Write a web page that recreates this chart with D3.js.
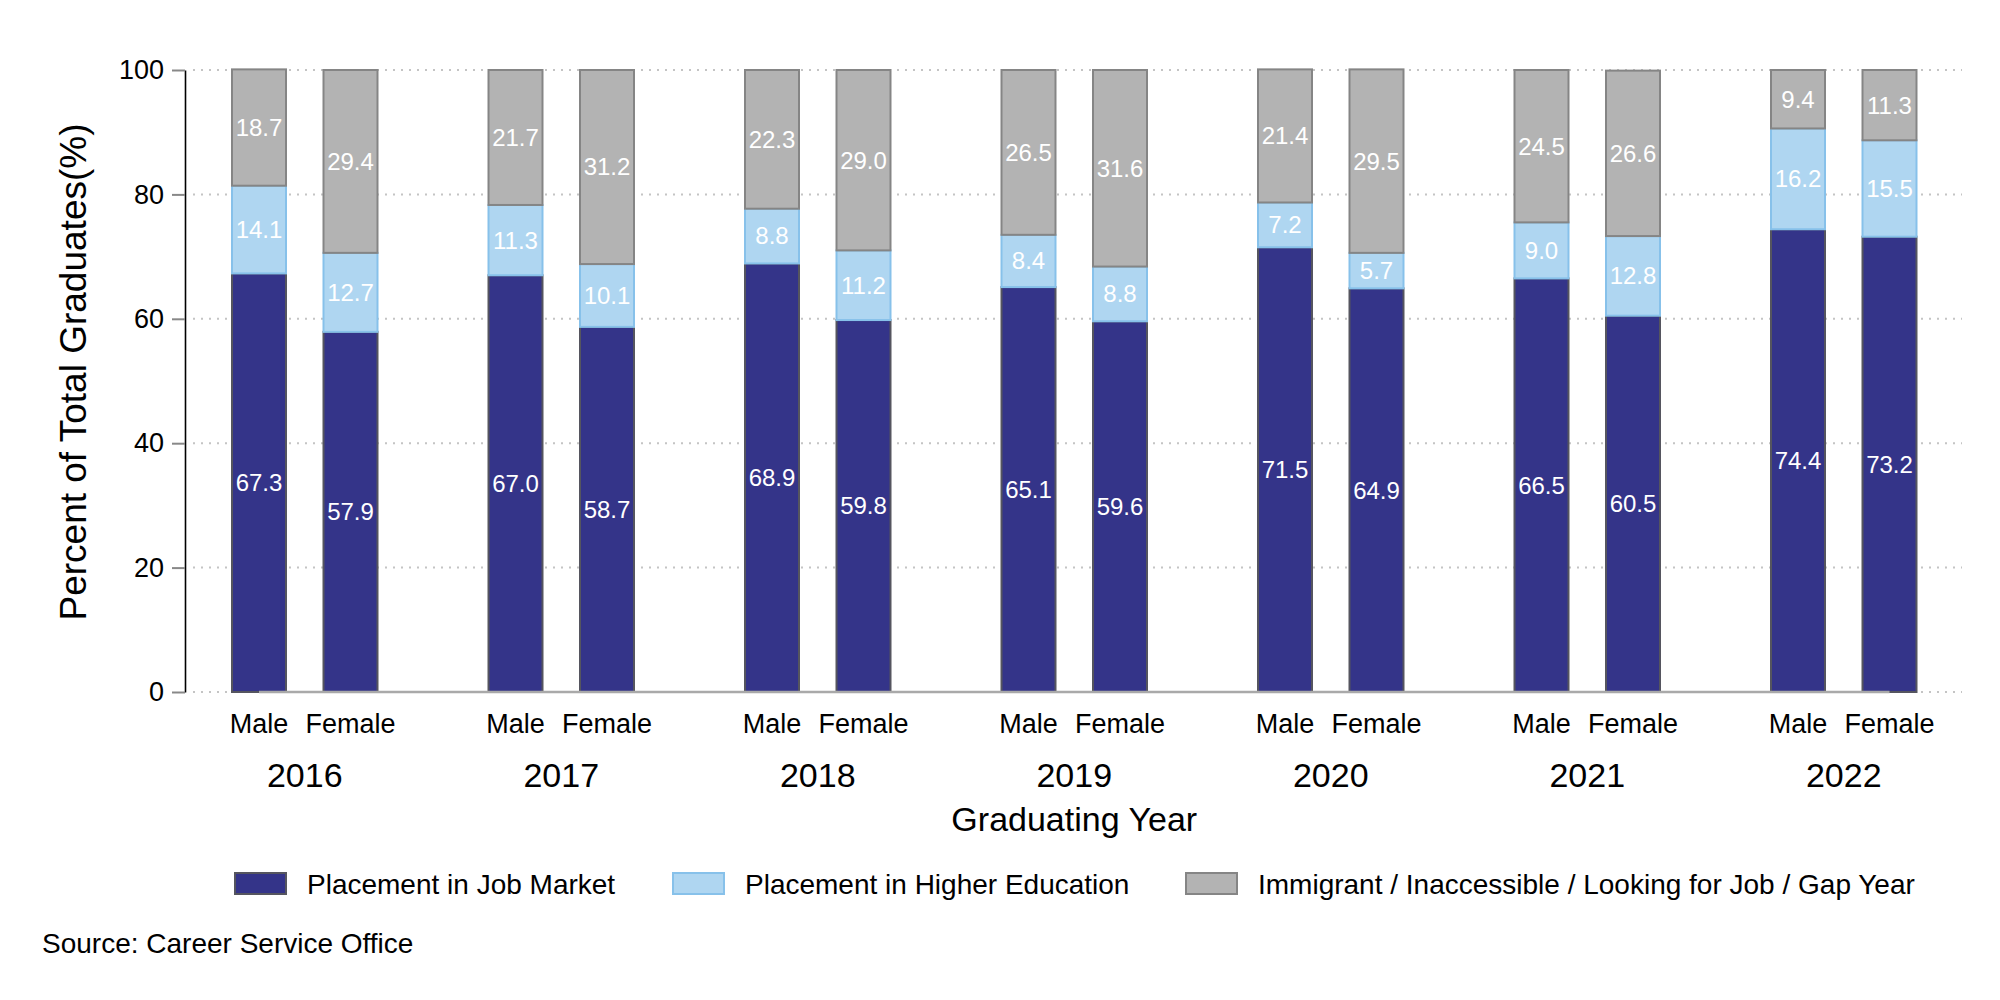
<!DOCTYPE html>
<html>
<head>
<meta charset="utf-8">
<script src="https://cdn.jsdelivr.net/npm/d3@7"></script>
<style>
  html, body { margin: 0; padding: 0; background: #ffffff; }
  svg { display: block; font-family: "Liberation Sans", Arial, sans-serif; }
</style>
</head>
<body>
<svg id="chart" width="2000" height="1000"></svg>
<script>
// ---- data ----
const years = ["2016", "2017", "2018", "2019", "2020", "2021", "2022"];
const sexes = ["Male", "Female"];
const seriesNames = [
  "Placement in Job Market",
  "Placement in Higher Education",
  "Immigrant / Inaccessible / Looking for Job / Gap Year"
];
// values ordered as [2016 Male, 2016 Female, 2017 Male, 2017 Female, ...]
const jobMarket = [67.3, 57.9, 67.0, 58.7, 68.9, 59.8, 65.1, 59.6, 71.5, 64.9, 66.5, 60.5, 74.4, 73.2];
const higherEdu = [14.1, 12.7, 11.3, 10.1, 8.8, 11.2, 8.4, 8.8, 7.2, 5.7, 9.0, 12.8, 16.2, 15.5];
const otherOutcome = [18.7, 29.4, 21.7, 31.2, 22.3, 29.0, 26.5, 31.6, 21.4, 29.5, 24.5, 26.6, 9.4, 11.3];
const yTicks = [0, 20, 40, 60, 80, 100];

const fills = ["#343489", "#afd6f1", "#b3b3b3"];
const strokes = ["#55555f", "#87c1ea", "#858585"];

// ---- build rows ----
const rows = [];
years.forEach((yr, i) => {
  sexes.forEach((sx, j) => {
    const k = i * 2 + j;
    rows.push({ year: yr, sex: sx, s0: jobMarket[k], s1: higherEdu[k], s2: otherOutcome[k] });
  });
});
const stack = d3.stack().keys(["s0", "s1", "s2"])(rows);

// ---- scales ----
const svg = d3.select("#chart");
const y = d3.scaleLinear().domain([0, 100]).range([692, 70]);
const x = d3.scaleBand().domain(years).range([176.5, 1972]).padding(0);
const xs = d3.scalePoint().domain(sexes).range([-45.75, 45.75]);
const barW = 54;
const cx = d => x(d.year) + x.bandwidth() / 2 + xs(d.sex);

// ---- grid ----
svg.append("g").selectAll("line").data(yTicks).join("line")
  .attr("x1", 193).attr("x2", 1962)
  .attr("y1", d => y(d)).attr("y2", d => y(d))
  .attr("stroke", "#c4c4c4").attr("stroke-width", 2)
  .attr("stroke-dasharray", "2,6");

// ---- bars ----
stack.forEach((layer, li) => {
  const g = svg.append("g");
  g.selectAll("rect").data(layer).join("rect")
    .attr("x", d => cx(d.data) - barW / 2)
    .attr("width", barW)
    .attr("y", d => y(d[1]))
    .attr("height", d => y(d[0]) - y(d[1]))
    .attr("fill", fills[li])
    .attr("stroke", strokes[li])
    .attr("stroke-width", 2);
});

// baseline line
svg.append("line")
  .attr("x1", cx(rows[0])).attr("x2", cx(rows[rows.length - 1]))
  .attr("y1", y(0)).attr("y2", y(0))
  .attr("stroke", "#a9a9a9").attr("stroke-width", 2.5);

// value labels
stack.forEach((layer, li) => {
  svg.append("g").selectAll("text").data(layer).join("text")
    .attr("x", d => cx(d.data))
    .attr("y", d => (y(d[0]) + y(d[1])) / 2)
    .attr("dy", "0.35em")
    .attr("text-anchor", "middle")
    .attr("fill", "#ffffff")
    .attr("font-size", 24)
    .text(d => (d[1] - d[0]).toFixed(1));
});

// ---- y axis ----
const yAxis = svg.append("g")
  .attr("transform", "translate(185,0)")
  .call(d3.axisLeft(y).tickValues(yTicks).tickSize(13).tickSizeOuter(0).tickPadding(8));
yAxis.select(".domain").attr("stroke", "#000").attr("stroke-width", 1.6);
yAxis.selectAll(".tick line").attr("stroke", "#888").attr("stroke-width", 2);
yAxis.selectAll(".tick text").attr("font-size", 27).attr("fill", "#000")
  .attr("font-family", "Liberation Sans, Arial, sans-serif");

svg.append("text")
  .attr("transform", "translate(86,372) rotate(-90)")
  .attr("text-anchor", "middle")
  .attr("font-size", 37)
  .text("Percent of Total Graduates(%)");

// ---- x labels ----
svg.append("g").selectAll("text").data(rows).join("text")
  .attr("x", d => cx(d)).attr("y", 733)
  .attr("text-anchor", "middle").attr("font-size", 27)
  .text(d => d.sex);

svg.append("g").selectAll("text").data(years).join("text")
  .attr("x", d => x(d) + x.bandwidth() / 2).attr("y", 787)
  .attr("text-anchor", "middle").attr("font-size", 34)
  .text(d => d);

svg.append("text")
  .attr("x", (cx(rows[0]) + cx(rows[rows.length - 1])) / 2).attr("y", 831)
  .attr("text-anchor", "middle").attr("font-size", 34)
  .text("Graduating Year");

// ---- legend ----
const legendBoxX = [235, 673, 1186];
const boxW = 51, boxH = 21, gapBT = 21;
const legend = svg.append("g");
seriesNames.forEach((name, i) => {
  legend.append("rect").attr("x", legendBoxX[i]).attr("y", 873).attr("width", boxW).attr("height", boxH)
    .attr("fill", fills[i]).attr("stroke", strokes[i]).attr("stroke-width", 2);
  legend.append("text").attr("x", legendBoxX[i] + boxW + gapBT).attr("y", 894)
    .attr("font-size", 28).text(name);
});

// ---- source ----
svg.append("text").attr("x", 42).attr("y", 953).attr("font-size", 28)
  .text("Source: Career Service Office");
</script>
</body>
</html>
